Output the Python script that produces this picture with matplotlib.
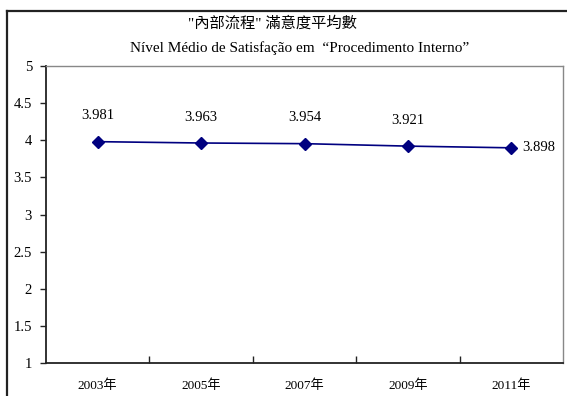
import matplotlib
matplotlib.use("Agg")
import matplotlib.pyplot as plt
from matplotlib.lines import Line2D

years = ["2003年", "2005年", "2007年", "2009年", "2011年"]
scores = [3.981, 3.963, 3.954, 3.921, 3.898]
yticks = [1, 1.5, 2, 2.5, 3, 3.5, 4, 4.5, 5]
ytick_labels = ["1", "1.5", "2", "2.5", "3", "3.5", "4", "4.5", "5"]
title_zh = "\"內部流程\" 滿意度平均數"
title_pt = "Nível Médio de Satisfação em  \u201cProcedimento Interno\u201d"

FAM = ["Liberation Serif", "Noto Sans CJK TC", "DejaVu Sans"]
plt.rcParams["font.family"] = FAM

W, H = 567, 396
fig = plt.figure(figsize=(W / 100, H / 100), dpi=100)
fig.patch.set_facecolor("white")

# outer chart frame (left and top edges)
fig.add_artist(Line2D([7 / W, 7 / W], [0, 1 - 11 / H], transform=fig.transFigure,
                      color="#222222", lw=1.6))
fig.add_artist(Line2D([7 / W, 1], [1 - 11 / H, 1 - 11 / H], transform=fig.transFigure,
                      color="#222222", lw=1.6))

left, right, top, bottom = 46, 563, 66, 363
ax = fig.add_axes([left / W, 1 - bottom / H, (right - left) / W, (bottom - top) / H])

x = list(range(len(years)))
ax.plot(x, scores, color="#000080", lw=1.2, marker="D", markersize=6,
        markerfacecolor="#000080", markeredgecolor="#000080")

for i, v in enumerate(scores):
    if i < len(scores) - 1:
        ax.annotate(f"{v:.3f}", (i, v), xytext=(0, 14), textcoords="offset points",
                    ha="center", va="bottom", fontsize=10.5)
    else:
        ax.annotate(f"{v:.3f}", (i, v), xytext=(8, 0), textcoords="offset points",
                    ha="left", va="center", fontsize=10.5)

ax.set_xlim(-0.5, len(years) - 0.5)
ax.set_ylim(1, 5)
ax.set_yticks(yticks)
ax.set_yticklabels(ytick_labels, fontsize=10.5)
ax.set_xticks([i + 0.5 for i in range(len(years) - 1)])
ax.set_xticklabels([])
ax.set_xticks(x, minor=True)
ax.set_xticklabels(years, minor=True, fontsize=9.5)
ax.tick_params(axis="x", which="major", direction="in", length=5, width=1, color="#222222")
ax.tick_params(axis="x", which="minor", length=0, pad=12)
ax.tick_params(axis="y", direction="out", length=4, width=1, color="#222222", pad=6)

for s in ["left", "bottom"]:
    ax.spines[s].set_color("#222222")
    ax.spines[s].set_linewidth(1.3)
for s in ["top", "right"]:
    ax.spines[s].set_color("#888888")
    ax.spines[s].set_linewidth(1.0)

fig.text(272 / W, 1 - 23 / H, title_zh, ha="center", va="center", fontsize=11)
fig.text(300 / W, 1 - 48 / H, title_pt, ha="center", va="center", fontsize=11)

fig.savefig("out.png", dpi=100, facecolor="white")
